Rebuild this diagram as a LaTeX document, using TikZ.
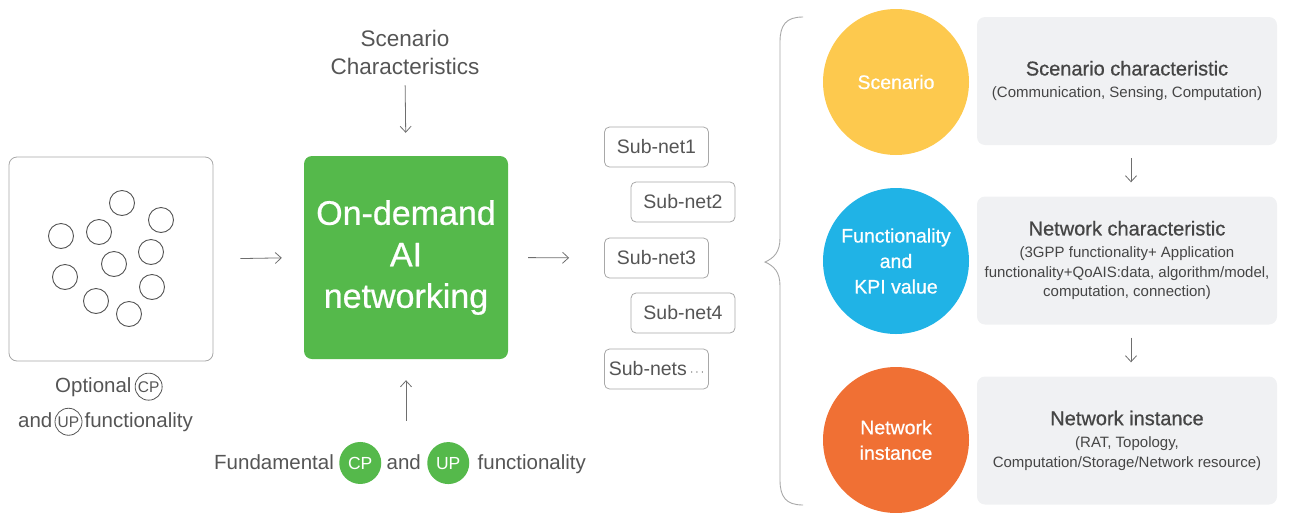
\documentclass[tikz,border=0pt]{standalone}
\usepackage{fontspec}
\setmainfont{Liberation Sans}
\newfontfamily\medfont[FakeBold=0.7]{Liberation Sans}
\usetikzlibrary{arrows.meta,positioning}
\definecolor{odgreen}{HTML}{55B94B}
\definecolor{scyellow}{HTML}{FDC94E}
\definecolor{fnblue}{HTML}{20B3E6}
\definecolor{niorange}{HTML}{F07034}
\definecolor{panelgray}{HTML}{F0F1F3}
\definecolor{ink}{HTML}{555555}
\definecolor{darkink}{HTML}{454545}
\definecolor{rim}{HTML}{A8A8A8}
\def\fs#1#2{\fontsize{#1}{#2}\selectfont}

\begin{document}
\begin{tikzpicture}[x=1pt,y=-1pt,
  arr/.style={draw=ink!85, line width=0.8pt, -{Straight Barb[length=6pt,width=11pt]}},
  word/.style={inner sep=0pt, text=ink, font=\fs{20.5}{24}},
  subbox/.style={draw=rim, line width=0.8pt, rounded corners=5pt, minimum width=104pt, minimum height=40pt, inner sep=0pt, text=ink, font=\fs{19.5}{22}},
  bigdot/.style={circle, minimum size=146pt, inner sep=0pt, text=white, align=center, font=\medfont\fs{19.5}{25.5}},
  panel/.style={fill=panelgray, rounded corners=8pt, minimum width=300pt, minimum height=128pt, inner sep=0pt, text=darkink, align=center, font=\fs{15}{19.5}},
  greendot/.style={circle, fill=odgreen, minimum size=42pt, inner sep=0pt, text=white, font=\fs{17.5}{20}},
  ringed/.style={circle, draw=ink, line width=0.8pt, minimum size=27pt, inner sep=0pt, text=ink, font=\fs{15.5}{18}}]
\useasboundingbox (0,0) rectangle (1304,512);

% left: pool of optional functions
\node[draw=rim, line width=0.8pt, rounded corners=8pt, minimum width=204pt, minimum height=204pt] (pool) at (111,259) {};
\foreach \cx/\cy in {122/203, 161/220, 61/236, 99/232, 151/252, 114/264, 65/277, 152/287, 96/301, 129/314}
  \draw[ink, line width=0.9pt] (\cx,\cy) circle[radius=12.5pt];

\node[word, anchor=base west] (opt) at (55,392) {Optional};
\node[ringed, base right=3pt of opt] (cpo) {CP};
\node[word, anchor=base west] (and1) at (18,427) {and};
\node[ringed, base right=2pt of and1] (upo) {UP};
\node[word, base right=2pt of upo] (fun1) {functionality};

% centre block
\node[fill=odgreen, rounded corners=8pt, minimum width=204pt, minimum height=203pt, text=white, align=center, font=\medfont\fs{34}{41.5}] (odai) at (406,257.5) {On-demand\\AI\\networking};
\node[inner sep=0pt, text=ink, align=center, font=\fs{22.5}{28}] (sc) at (405,52) {Scenario\\Characteristics};

\node[word, anchor=base west] (fund) at (214,469) {Fundamental};
\node[greendot, base right=5pt of fund] (cpg) {CP};
\node[word, base right=5pt of cpg] (and2) {and};
\node[greendot, base right=6pt of and2] (upg) {UP};
\node[word, base right=8pt of upg] (fun2) {functionality};

\draw[arr, shorten <=11pt, shorten >=23pt] (sc.south) -- (odai.north);
\draw[arr, shorten <=33pt, shorten >=21pt] (odai.south |- and2.north) -- (odai.south);
\draw[arr, shorten <=27pt, shorten >=22pt] (pool.east) -- (odai.west);

% sub-nets
\node[subbox] (sub1) at (656.5,147) {Sub-net1};
\node[subbox] (sub2) at (683,202) {Sub-net2};
\node[subbox] (sub3) at (656.5,258) {Sub-net3};
\node[subbox] (sub4) at (683,313) {Sub-net4};
\node[subbox] (subs) at (656.5,369) {Sub-nets\,{\fs{12}{12}$\cdots$}};
\draw[arr, shorten <=20pt, shorten >=35pt] (odai.east) -- (sub3.west);

% brace
\draw[rim, line width=0.9pt] (803,17) .. controls (786,17) and (780,25) .. (780,42) -- (780,238)
  .. controls (780,252) and (774,258) .. (765,262) .. controls (774,266) and (780,272) .. (780,286)
  -- (780,480) .. controls (780,497) and (786,505) .. (803,505);

% right: three layers
\node[bigdot, fill=scyellow] (scen) at (896,82) {Scenario};
\node[bigdot, fill=fnblue] (func) at (896,261) {Functionality\\and\\KPI value};
\node[bigdot, fill=niorange] (inst) at (896,440) {Network\\instance};

\node[panel] (p1) at (1127,81) {{\medfont\fs{20}{24}Scenario characteristic}\\[3pt](Communication, Sensing, Computation)};
\node[panel] (p2) at (1127,260.5) {{\medfont\fs{20}{24}Network characteristic}\\[3pt](3GPP functionality+ Application\\functionality+QoAIS:data, algorithm/model,\\computation, connection)};
\node[panel] (p3) at (1127,440.5) {{\medfont\fs{20}{24}Network instance}\\[3pt](RAT, Topology,\\Computation/Storage/Network resource)};

\draw[arr, shorten <=13pt, shorten >=14pt] ([xshift=4pt]p1.south) -- ([xshift=4pt]p2.north);
\draw[arr, shorten <=13pt, shorten >=14pt] ([xshift=4pt]p2.south) -- ([xshift=4pt]p3.north);
\end{tikzpicture}
\end{document}
